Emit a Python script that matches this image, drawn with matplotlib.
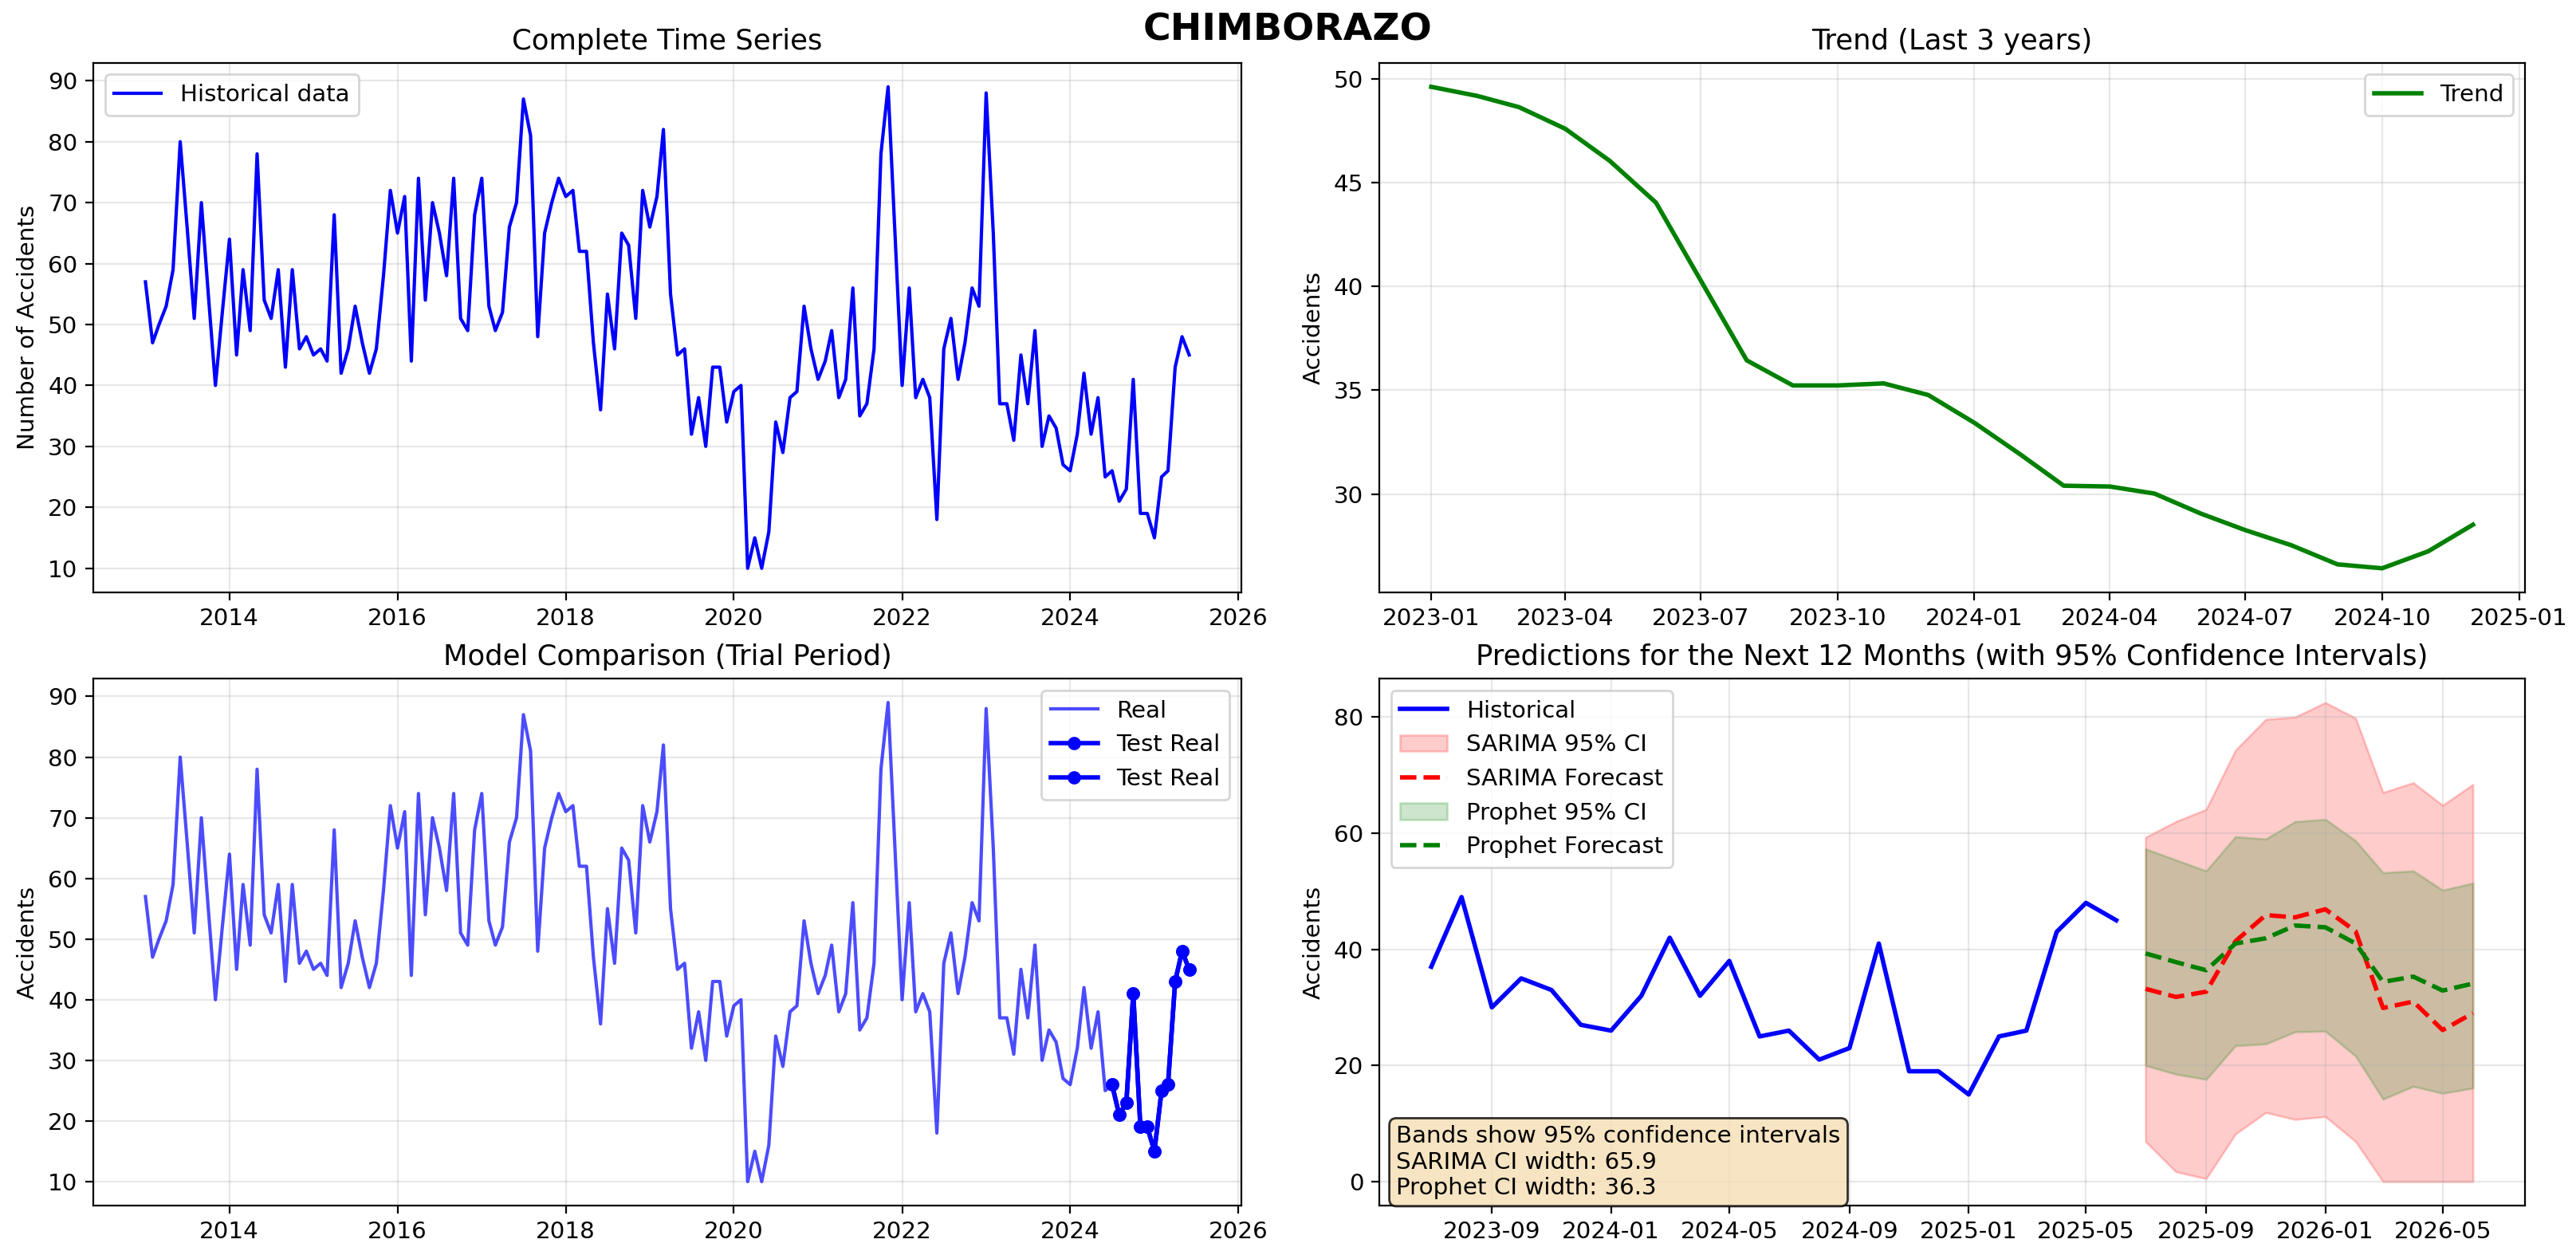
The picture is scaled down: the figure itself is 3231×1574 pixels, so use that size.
import matplotlib
matplotlib.use('Agg')
import matplotlib.pyplot as plt
import pandas as pd

# monthly accidents, 2013-01 .. 2025-06
accidents = [57, 47, 50, 53, 59, 80, 66, 51, 70, 55, 40, 52,
             64, 45, 59, 49, 78, 54, 51, 59, 43, 59, 46, 48,
             45, 46, 44, 68, 42, 46, 53, 47, 42, 46, 58, 72,
             65, 71, 44, 74, 54, 70, 65, 58, 74, 51, 49, 68,
             74, 53, 49, 52, 66, 70, 87, 81, 48, 65, 70, 74,
             71, 72, 62, 62, 47, 36, 55, 46, 65, 63, 51, 72,
             66, 71, 82, 55, 45, 46, 32, 38, 30, 43, 43, 34,
             39, 40, 10, 15, 10, 16, 34, 29, 38, 39, 53, 46,
             41, 44, 49, 38, 41, 56, 35, 37, 46, 78, 89, 65,
             40, 56, 38, 41, 38, 18, 46, 51, 41, 47, 56, 53,
             88, 65, 37, 37, 31, 45, 37, 49, 30, 35, 33, 27,
             26, 32, 42, 32, 38, 25, 26, 21, 23, 41, 19, 19,
             15, 25, 26, 43, 48, 45]

# trend component 2023-01 .. 2024-12
trend = [49.62, 49.18, 48.64, 47.6, 46.05, 44.04, 40.3, 36.44, 35.23, 35.23, 35.33, 34.77,
         33.43, 31.9, 30.4, 30.36, 30.02, 29.06, 28.26, 27.53, 26.61, 26.42, 27.24, 28.52]

# forecasts 2025-07 .. 2026-06
sarima_fc = [33.2, 31.8, 32.7, 41.4, 45.9, 45.5, 46.9, 43.1, 29.9, 31.0, 26.1, 29.0]
sarima_lo = [6.9, 1.7, 0.5, 8.2, 11.9, 10.7, 11.2, 6.9, 0.0, 0.0, 0.0, 0.0]
sarima_hi = [59.3, 62.0, 64.1, 74.3, 79.6, 80.0, 82.5, 79.8, 67.0, 68.7, 64.8, 68.4]
prophet_fc = [39.3, 37.8, 36.4, 41.0, 41.9, 44.1, 43.8, 41.0, 34.4, 35.3, 32.9, 34.1]
prophet_lo = [20.0, 18.5, 17.6, 23.4, 23.7, 25.8, 25.9, 21.6, 14.2, 16.4, 15.2, 16.1]
prophet_hi = [57.3, 55.4, 53.5, 59.4, 59.0, 62.0, 62.4, 58.7, 53.2, 53.5, 50.2, 51.4]

dates = pd.date_range('2013-01-01', periods=len(accidents), freq='MS')
trend_dates = pd.date_range('2023-01-01', periods=len(trend), freq='MS')
fc_dates = pd.date_range('2025-07-01', periods=len(sarima_fc), freq='MS')
series = pd.Series(accidents, index=dates)
test = series[-12:]
recent = series[-24:]

plt.rcParams['font.size'] = 10.6

fig = plt.figure(figsize=(3231 / 200, 1574 / 200), dpi=200)
ax1 = fig.add_axes([0.0362, 0.528, 0.4457, 0.422])
ax2 = fig.add_axes([0.5354, 0.528, 0.4448, 0.422])
ax3 = fig.add_axes([0.0362, 0.0394, 0.4457, 0.4199])
ax4 = fig.add_axes([0.5354, 0.0394, 0.4448, 0.4199])

fig.suptitle('CHIMBORAZO', fontsize=17, fontweight='bold', y=0.99)

# complete series
ax1.plot(series.index, series.values, 'b-', linewidth=1.5, label='Historical data')
ax1.set_title('Complete Time Series')
ax1.set_ylabel('Number of Accidents')
ax1.legend(loc='upper left')
ax1.grid(True, alpha=0.3)

# trend
ax2.plot(trend_dates, trend, 'g-', linewidth=2, label='Trend')
ax2.set_title('Trend (Last 3 years)')
ax2.set_ylabel('Accidents')
ax2.legend(loc='upper right')
ax2.grid(True, alpha=0.3)

# model comparison
ax3.plot(series.index, series.values, 'b-', alpha=0.7, linewidth=1.5, label='Real')
ax3.plot(test.index, test.values, 'bo-', linewidth=2, markersize=5, label='Test Real')
ax3.plot(test.index, test.values, 'bo-', linewidth=2, markersize=5, label='Test Real')
ax3.set_title('Model Comparison (Trial Period)')
ax3.set_ylabel('Accidents')
ax3.legend(loc='upper right')
ax3.grid(True, alpha=0.3)

# forecasts
ax4.plot(recent.index, recent.values, 'b-', linewidth=2, label='Historical')
ax4.fill_between(fc_dates, sarima_lo, sarima_hi, color='red', alpha=0.2, label='SARIMA 95% CI')
ax4.plot(fc_dates, sarima_fc, 'r--', linewidth=2, label='SARIMA Forecast')
ax4.fill_between(fc_dates, prophet_lo, prophet_hi, color='green', alpha=0.2, label='Prophet 95% CI')
ax4.plot(fc_dates, prophet_fc, 'g--', linewidth=2, label='Prophet Forecast')
ax4.set_title('Predictions for the Next 12 Months (with 95% Confidence Intervals)')
ax4.set_ylabel('Accidents')
ax4.legend(loc='upper left')
ax4.grid(True, alpha=0.3)
ax4.text(0.015, 0.012, 'Bands show 95% confidence intervals\nSARIMA CI width: 65.9\nProphet CI width: 36.3',
         transform=ax4.transAxes, va='bottom', fontsize=10.6,
         bbox=dict(boxstyle='round', facecolor='wheat', alpha=0.8))

fig.savefig('out.png', dpi=200)
